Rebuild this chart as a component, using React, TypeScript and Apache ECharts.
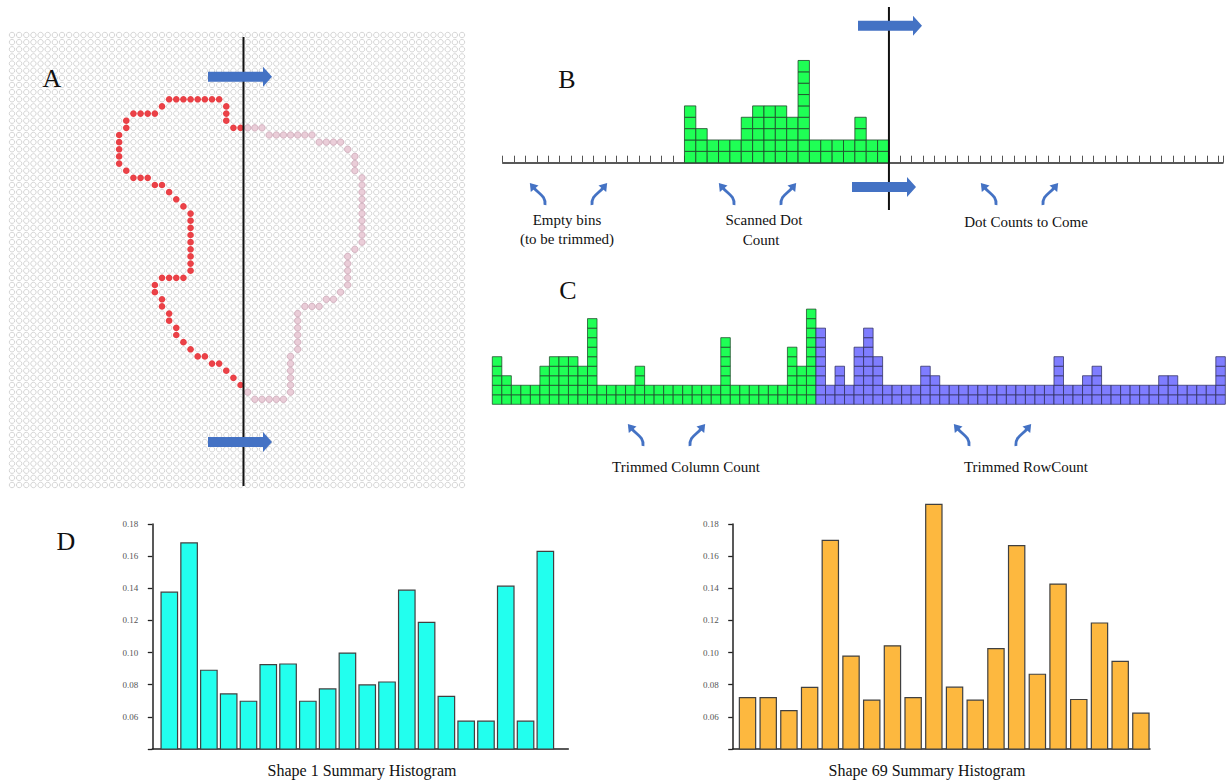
import React, { useEffect, useRef } from "react";
import * as echarts from "echarts";

// ---------------- DATA ----------------
const GRID_N = 64; // panel A dot grid is 64 x 64

// Panel A: scanned shape (red, left of scan line) as [column, row]
const redPath: [number, number][] = [
  [22, 9], [23, 9], [24, 9], [25, 9], [26, 9], [27, 9], [28, 9], [29, 9],
  [21, 10], [30, 10],
  [17, 11], [18, 11], [19, 11], [20, 11], [30, 11],
  [16, 12], [30, 12],
  [16, 13], [31, 13], [32, 13],
  [15, 14], [15, 15], [15, 16], [15, 17], [15, 18],
  [16, 19],
  [17, 20], [18, 20], [19, 20],
  [20, 21], [21, 21],
  [22, 22], [23, 23], [24, 24],
  [25, 25], [25, 26], [25, 27], [25, 28], [25, 29], [25, 30], [25, 31], [25, 32], [25, 33],
  [21, 34], [22, 34], [23, 34], [24, 34],
  [20, 35], [20, 36], [21, 37], [21, 38], [22, 39], [22, 40], [23, 41], [23, 42],
  [24, 43], [25, 44], [26, 45], [27, 45], [28, 46], [29, 46], [30, 47], [31, 48], [32, 49],
];

// Panel A: not yet scanned part of the shape (pink)
const pinkPath: [number, number][] = [
  [33, 13], [34, 13], [35, 13],
  [36, 14], [37, 14], [38, 14], [39, 14], [40, 14], [41, 14], [42, 14],
  [43, 15], [44, 15], [45, 15], [46, 15],
  [47, 16], [48, 17], [48, 18], [48, 19],
  [49, 20], [49, 21], [49, 22], [49, 23], [49, 24], [49, 25], [49, 26], [49, 27], [49, 28], [49, 29],
  [48, 30], [47, 31], [47, 32], [47, 33], [47, 34], [47, 35],
  [46, 36], [44, 37], [45, 37], [41, 38], [42, 38], [43, 38],
  [40, 39], [40, 40], [40, 41], [40, 42], [40, 43], [40, 44],
  [39, 45], [39, 46], [39, 47], [39, 48], [39, 49], [39, 50],
  [33, 50], [34, 51], [35, 51], [36, 51], [37, 51], [38, 51],
];

// Panel B: dot counts of the scanned columns
const B_BIN_COUNT = 63;
const scanStartBin = 16;
const scannedDotCounts = [5, 3, 2, 2, 2, 4, 5, 5, 5, 4, 9, 2, 2, 2, 2, 4, 2, 2];
const scanLineBin = 34;

// Panel C: trimmed column counts (green) and row counts (purple)
const trimmedColumnCountRest = [2, 2, 2, 2, 2, 2, 7, 2, 2, 2, 2, 2, 2, 6, 4, 10];
const trimmedRowCount = [
  8, 2, 4, 2, 6, 8, 5, 2, 2, 2, 2, 4, 3, 2, 2, 2, 2, 2, 2, 2, 2, 2,
  2, 2, 2, 5, 2, 2, 3, 4, 2, 2, 2, 2, 2, 2, 3, 3, 2, 2, 2, 2, 5,
];

// Panel D: summary histograms
const shape1Hist = [
  0.1376, 0.1682, 0.089, 0.0743, 0.0697, 0.0925, 0.0929, 0.0697, 0.0774, 0.0997,
  0.0799, 0.0817, 0.1388, 0.1188, 0.0728, 0.0573, 0.0573, 0.1413, 0.0573, 0.163,
];
const shape69Hist = [
  0.072, 0.072, 0.0639, 0.0783, 0.1698, 0.0978, 0.0704, 0.1042, 0.072, 0.1922,
  0.0785, 0.0704, 0.1025, 0.1665, 0.0865, 0.1426, 0.0708, 0.1184, 0.0945, 0.0623,
];
const histYMin = 0.04;
const histYMax = 0.18;
const histYInterval = 0.02;

// ---------------- STYLE ----------------
const SERIF = '"Liberation Serif", "Times New Roman", serif';
const BLUE = "#4472C4";
const GREEN = "#1fff55";
const PURPLE = "#7f7dff";
const CYAN = "#22ffee";
const ORANGE = "#fdb83f";

const B_CELL = 11.36;
const C_CELL = 9.52;

function blockArrow(x0: number, yc: number) {
  return {
    type: "polygon",
    shape: {
      points: [
        [x0, yc - 5], [x0 + 55, yc - 5], [x0 + 55, yc - 10], [x0 + 64, yc],
        [x0 + 55, yc + 10], [x0 + 55, yc + 5], [x0, yc + 5],
      ],
    },
    style: { fill: BLUE, stroke: null },
  };
}

function curvedArrow(bx: number, by: number, s: number) {
  const x1 = bx, y1 = by;
  const cpx1 = bx - s * 1, cpy1 = by - 9;
  const cpx2 = bx + s * 6, cpy2 = by - 11;
  const x2 = bx + s * 11, y2 = by - 17;
  const dx = x2 - cpx2, dy = y2 - cpy2;
  const L = Math.hypot(dx, dy);
  const ux = dx / L, uy = dy / L;
  const px = -uy, py = ux;
  const tip = [x2 + ux * 6.5, y2 + uy * 6.5];
  const b1 = [x2 - ux + px * 5, y2 - uy + py * 5];
  const b2 = [x2 - ux - px * 5, y2 - uy - py * 5];
  return [
    {
      type: "bezierCurve",
      shape: { x1, y1, x2, y2, cpx1, cpy1, cpx2, cpy2 },
      style: { stroke: BLUE, lineWidth: 2.8, fill: null },
    },
    { type: "polygon", shape: { points: [tip, b1, b2] }, style: { fill: BLUE, stroke: null } },
  ];
}

function label(text: string, x: number, y: number, size: number) {
  return {
    type: "text",
    x,
    y,
    style: {
      text,
      fill: "#111",
      font: `${size}px ${SERIF}`,
      align: "center",
      verticalAlign: "middle",
    },
  };
}

function vline(x: number, y1: number, y2: number) {
  return {
    type: "line",
    shape: { x1: x, y1, x2: x, y2 },
    style: { stroke: "#111", lineWidth: 2, fill: null },
  };
}

const cellRender = (fill: string, stroke: string) => (params: any, api: any) => {
  const col = api.value(0);
  const n = api.value(1);
  const children: any[] = [];
  for (let k = 0; k < n; k++) {
    const p0 = api.coord([col, k]);
    const p1 = api.coord([col + 1, k + 1]);
    children.push({
      type: "rect",
      shape: { x: p0[0], y: p1[1], width: p1[0] - p0[0], height: p0[1] - p1[1] },
      style: { fill, stroke, lineWidth: 1 },
    });
  }
  return { type: "group", children };
};

const histRender = (fill: string, barW: number) => (params: any, api: any) => {
  const x = api.value(0);
  const top = api.coord([x, api.value(1)]);
  const bot = api.coord([x, histYMin]);
  return {
    type: "rect",
    shape: { x: top[0] - barW / 2, y: top[1], width: barW, height: bot[1] - top[1] },
    style: { fill, stroke: "#404040", lineWidth: 1.2 },
  };
};

function histYAxis(gridIndex: number) {
  return {
    gridIndex,
    type: "value",
    min: histYMin,
    max: histYMax,
    interval: histYInterval,
    axisLine: { show: true, onZero: false, lineStyle: { color: "#222", width: 1.5 } },
    axisTick: { show: true, length: 4.5, lineStyle: { color: "#222", width: 1.3 } },
    axisLabel: {
      fontSize: 9,
      color: "#555",
      fontFamily: SERIF,
      margin: 14,
      formatter: (v: number) => (v < histYMin + 0.005 ? "" : v.toFixed(2)),
    },
    splitLine: { show: false },
  };
}

function histXAxis(gridIndex: number, min: number, max: number) {
  return {
    gridIndex,
    type: "value",
    min,
    max,
    axisLine: { show: true, onZero: false, lineStyle: { color: "#222", width: 1.5 } },
    axisTick: { show: false },
    axisLabel: { show: false },
    splitLine: { show: false },
  };
}

export default function App() {
  const ref = useRef<HTMLDivElement>(null);

  useEffect(() => {
    document.body.style.margin = "0";
    if (!ref.current) return;
    const chart = echarts.init(ref.current, null, { renderer: "svg" });

    const gridDots: number[][] = [];
    for (let r = 0; r < GRID_N; r++) for (let c = 0; c < GRID_N; c++) gridDots.push([c, r]);

    const cGreen = [...scannedDotCounts, ...trimmedColumnCountRest].map((v, i) => [i, v]);
    const cPurpleStart = cGreen.length;
    const cPurple = trimmedRowCount.map((v, i) => [cPurpleStart + i, v]);
    const cTotal = cPurpleStart + trimmedRowCount.length;

    const annotations: any[] = [
      // Panel A label, scan line and arrows (drawn above the dot grid)
      label("A", 52, 78, 26),
      vline(243.5, 37, 486),
      blockArrow(208, 76.7),
      blockArrow(208, 442),
      // Panel B scan line and arrows
      vline(502.7 + scanLineBin * B_CELL, 7, 210),
      blockArrow(858, 25.7),
      blockArrow(852, 187),
      // Panel B / C curved arrows
      ...curvedArrow(545, 205, -1),
      ...curvedArrow(592, 205, 1),
      ...curvedArrow(734, 205, -1),
      ...curvedArrow(781, 205, 1),
      ...curvedArrow(996, 205, -1),
      ...curvedArrow(1043, 205, 1),
      ...curvedArrow(643, 446, -1),
      ...curvedArrow(690, 446, 1),
      ...curvedArrow(969, 446, -1),
      ...curvedArrow(1016, 446, 1),
    ];

    const texts: any[] = [
      label("B", 567, 79, 26),
      label("C", 568, 290, 26),
      label("D", 66, 541, 26),
      label("Empty bins", 567, 220, 15),
      label("(to be trimmed)", 567, 239, 15),
      label("Scanned Dot", 764, 220, 15),
      label("Count", 761, 240, 15),
      label("Dot Counts to Come", 1026, 222, 15),
      label("Trimmed Column Count", 686, 467, 15),
      label("Trimmed RowCount", 1026, 467, 15),
      label("Shape 1 Summary Histogram", 362, 770, 16),
      label("Shape 69 Summary Histogram", 927, 770, 16),
    ];

    chart.setOption({
      animation: false,
      backgroundColor: "#ffffff",
      grid: [
        { left: 12, top: 35, width: 450, height: 450 },
        { left: 502.7, top: 162.7 - 12 * B_CELL, width: 63.4 * B_CELL, height: 12 * B_CELL },
        { left: 492.3, top: 404.3 - 12 * C_CELL, width: cTotal * C_CELL, height: 12 * C_CELL },
        { left: 152.3, top: 524, width: 416, height: 225 },
        { left: 732.7, top: 524, width: 417.3, height: 225 },
      ],
      xAxis: [
        { gridIndex: 0, type: "value", min: 0, max: GRID_N - 1, show: false },
        {
          gridIndex: 1,
          type: "value",
          min: 0,
          max: B_BIN_COUNT + 0.4,
          interval: 1,
          axisLine: { show: true, onZero: false, lineStyle: { color: "#222", width: 1.5 } },
          axisTick: { show: true, inside: true, length: 7, lineStyle: { color: "#555", width: 1 } },
          axisLabel: { show: false },
          splitLine: { show: false },
        },
        { gridIndex: 2, type: "value", min: 0, max: cTotal, show: false },
        histXAxis(3, -0.859, 20.16),
        histXAxis(4, -0.715, 19.44),
      ],
      yAxis: [
        { gridIndex: 0, type: "value", min: 0, max: GRID_N - 1, inverse: true, show: false },
        { gridIndex: 1, type: "value", min: 0, max: 12, show: false },
        { gridIndex: 2, type: "value", min: 0, max: 12, show: false },
        histYAxis(3),
        histYAxis(4),
      ],
      series: [
        {
          type: "scatter",
          xAxisIndex: 0,
          yAxisIndex: 0,
          data: gridDots,
          symbol: "circle",
          symbolSize: 5.4,
          progressive: 0,
          z: 1,
          silent: true,
          itemStyle: { color: "#ffffff", borderColor: "#bdbdbd", borderWidth: 0.8 },
        },
        {
          type: "scatter",
          xAxisIndex: 0,
          yAxisIndex: 0,
          data: pinkPath,
          symbolSize: 6.6,
          z: 2,
          silent: true,
          itemStyle: { color: "#e6c2cf", borderColor: "#c8a2b2", borderWidth: 0.8 },
        },
        {
          type: "scatter",
          xAxisIndex: 0,
          yAxisIndex: 0,
          data: redPath,
          symbolSize: 6.6,
          z: 2,
          silent: true,
          itemStyle: { color: "#e8141c" },
        },
        {
          type: "custom",
          xAxisIndex: 1,
          yAxisIndex: 1,
          encode: { x: 0, y: 1 },
          data: scannedDotCounts.map((v, i) => [scanStartBin + i, v]),
          renderItem: cellRender(GREEN, "rgba(30,70,40,0.8)"),
          silent: true,
        },
        {
          type: "custom",
          xAxisIndex: 2,
          yAxisIndex: 2,
          encode: { x: 0, y: 1 },
          data: cGreen,
          renderItem: cellRender(GREEN, "rgba(30,70,40,0.75)"),
          silent: true,
        },
        {
          type: "custom",
          xAxisIndex: 2,
          yAxisIndex: 2,
          encode: { x: 0, y: 1 },
          data: cPurple,
          renderItem: cellRender(PURPLE, "rgba(45,45,95,0.75)"),
          silent: true,
        },
        {
          type: "custom",
          xAxisIndex: 3,
          yAxisIndex: 3,
          encode: { x: 0, y: 1 },
          data: shape1Hist.map((v, i) => [i, v]),
          renderItem: histRender(CYAN, 16.5),
          silent: true,
        },
        {
          type: "custom",
          xAxisIndex: 4,
          yAxisIndex: 4,
          encode: { x: 0, y: 1 },
          data: shape69Hist.map((v, i) => [i, v]),
          renderItem: histRender(ORANGE, 16.3),
          silent: true,
        },
        {
          type: "custom",
          coordinateSystem: "none",
          data: [0],
          z: 50,
          silent: true,
          renderItem: () => ({ type: "group", children: annotations }),
        },
      ],
      graphic: { z: 100, elements: texts },
    });

    return () => chart.dispose();
  }, []);

  return <div ref={ref} style={{ width: 1227, height: 782 }} />;
}
